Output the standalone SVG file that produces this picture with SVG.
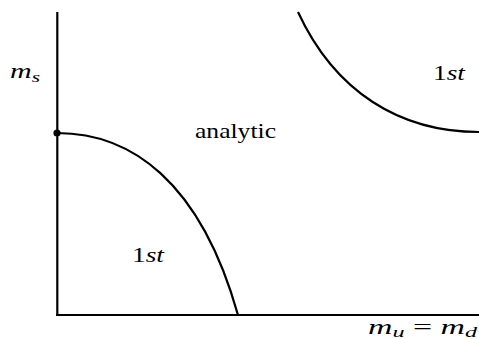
<svg xmlns="http://www.w3.org/2000/svg" width="479" height="339" viewBox="0 0 479 339">
<style>
.ln{fill:none;stroke:#000;stroke-width:2.2}
.t{font-family:'Liberation Serif','DejaVu Serif',serif;font-size:21px;fill:#000}
.i{font-style:italic}
.n{font-style:normal}
.sub{font-size:15px}
</style>
<rect width="479" height="339" fill="#fff"/>
<g id="axes">
<line class="ln" x1="57.3" y1="12" x2="57.3" y2="316"/>
<line class="ln" x1="56.2" y1="315" x2="479" y2="315"/>
</g>
<g id="connectors">
<path id="lower-curve" class="ln" d="M57,133 C130,133 200,180 238,315"/>
<path id="upper-curve" class="ln" d="M298,12 C335,92 400,132 479,132"/>
</g>
<g id="dot"><circle cx="57" cy="133" r="3.6" fill="#000"/></g>
<g id="label-ms"><text class="t i" x="10" y="78" textLength="30" lengthAdjust="spacingAndGlyphs">m<tspan class="sub" dy="3.5">s</tspan></text></g>
<g id="label-analytic"><text class="t" x="195" y="138" textLength="81" lengthAdjust="spacingAndGlyphs">analytic</text></g>
<g id="label-1st-upper"><text class="t" x="433" y="80" textLength="32" lengthAdjust="spacingAndGlyphs">1<tspan class="i">st</tspan></text></g>
<g id="label-1st-lower"><text class="t" x="132" y="262" textLength="32" lengthAdjust="spacingAndGlyphs">1<tspan class="i">st</tspan></text></g>
<g id="label-mumd"><text class="t i" x="368" y="334" textLength="109" lengthAdjust="spacingAndGlyphs">m<tspan class="sub" dy="3">u</tspan><tspan class="n" dy="-3"> = </tspan>m<tspan class="sub" dy="3">d</tspan></text></g>
</svg>
